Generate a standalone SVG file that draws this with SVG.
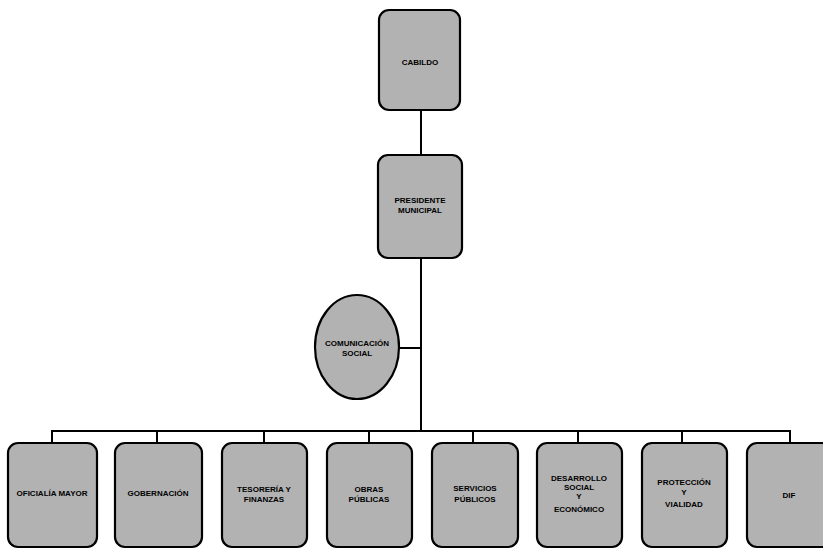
<svg xmlns="http://www.w3.org/2000/svg" width="823" height="549" viewBox="0 0 823 549">
<defs>
<style>
.box{fill:#b2b2b2;stroke:#000;stroke-width:2.2}
.t{font-family:"Liberation Sans",Arial,sans-serif;font-size:8px;font-weight:bold;fill:#000;text-anchor:middle}
.c{stroke:#000;stroke-width:2;fill:none}
</style>
</defs>
<rect width="823" height="549" fill="#fff"/>
<g id="connectors">
<line class="c" x1="421" y1="110" x2="421" y2="155"/>
<line class="c" x1="421" y1="258" x2="421" y2="431"/>
<line class="c" x1="400" y1="348" x2="421" y2="348"/>
<line class="c" x1="51" y1="431" x2="791" y2="431"/>
<line class="c" x1="52" y1="431" x2="52" y2="443"/>
<line class="c" x1="157" y1="431" x2="157" y2="443"/>
<line class="c" x1="264" y1="431" x2="264" y2="443"/>
<line class="c" x1="369" y1="431" x2="369" y2="443"/>
<line class="c" x1="473" y1="431" x2="473" y2="443"/>
<line class="c" x1="578" y1="431" x2="578" y2="443"/>
<line class="c" x1="682" y1="431" x2="682" y2="443"/>
<line class="c" x1="790" y1="431" x2="790" y2="443"/>
</g>
<g id="cabildo">
<rect class="box" x="379" y="10" width="81" height="100" rx="10"/>
<text class="t" x="420" y="65">CABILDO</text>
</g>
<g id="presidente">
<rect class="box" x="378" y="155" width="84" height="103" rx="10"/>
<text class="t" x="420" y="203">PRESIDENTE</text>
<text class="t" x="420" y="213">MUNICIPAL</text>
</g>
<g id="comunicacion">
<ellipse class="box" cx="357" cy="347" rx="42" ry="52"/>
<text class="t" x="357" y="346">COMUNICACIÓN</text>
<text class="t" x="357" y="356">SOCIAL</text>
</g>
<g id="oficialia">
<rect class="box" x="8" y="443" width="89" height="104" rx="10"/>
<text class="t" x="52" y="496">OFICIALÍA MAYOR</text>
</g>
<g id="gobernacion">
<rect class="box" x="115" y="443" width="87" height="104" rx="10"/>
<text class="t" x="158" y="496">GOBERNACIÓN</text>
</g>
<g id="tesoreria">
<rect class="box" x="222" y="443" width="85" height="104" rx="10"/>
<text class="t" x="264" y="492">TESORERÍA Y</text>
<text class="t" x="264" y="502">FINANZAS</text>
</g>
<g id="obras">
<rect class="box" x="327" y="443" width="85" height="104" rx="10"/>
<text class="t" x="369" y="492">OBRAS</text>
<text class="t" x="369" y="502">PÚBLICAS</text>
</g>
<g id="servicios">
<rect class="box" x="432" y="443" width="86" height="104" rx="10"/>
<text class="t" x="475" y="491">SERVICIOS</text>
<text class="t" x="475" y="502">PÚBLICOS</text>
</g>
<g id="desarrollo">
<rect class="box" x="537" y="443" width="85" height="104" rx="10"/>
<text class="t" x="579" y="481">DESARROLLO</text>
<text class="t" x="579" y="490">SOCIAL</text>
<text class="t" x="579" y="499">Y</text>
<text class="t" x="579" y="512">ECONÓMICO</text>
</g>
<g id="proteccion">
<rect class="box" x="642" y="443" width="85" height="104" rx="10"/>
<text class="t" x="684" y="485">PROTECCIÓN</text>
<text class="t" x="684" y="495">Y</text>
<text class="t" x="684" y="507">VIALIDAD</text>
</g>
<g id="dif">
<rect class="box" x="747" y="443" width="85" height="104" rx="10"/>
<text class="t" x="789" y="498">DIF</text>
</g>
</svg>
